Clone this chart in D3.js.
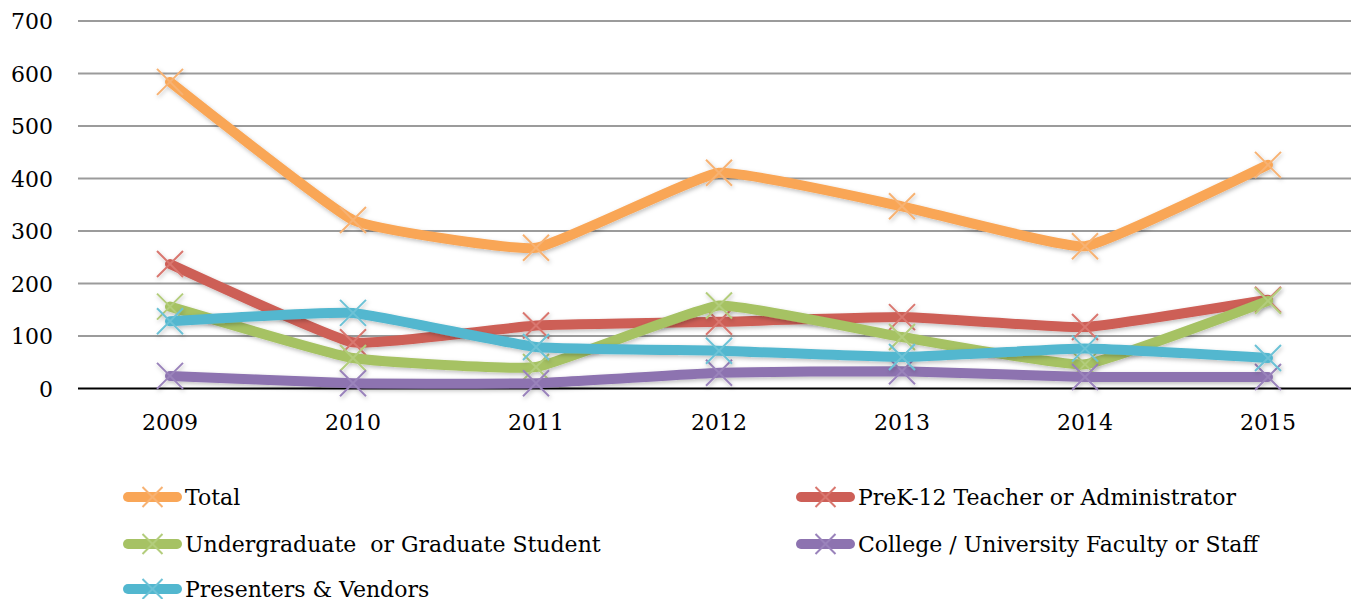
<!DOCTYPE html>
<html lang="en">
<head>
<meta charset="UTF-8">
<title>Attendance by group</title>
<script src="https://d3js.org/d3.v7.min.js"></script>
<style>
  body { margin: 0; background: #fff; }
  svg text { font-family: "DejaVu Serif", serif; fill: #000; }
</style>
</head>
<body>
<svg id="canvas"></svg>
<script>
let years = ["2009", "2010", "2011", "2012", "2013", "2014", "2015"]
let yTicks = [0, 100, 200, 300, 400, 500, 600, 700]

let seriesNames = [
  "Total",
  "PreK-12 Teacher or Administrator",
  "Undergraduate  or Graduate Student",
  "College / University Faculty or Staff",
  "Presenters & Vendors"
]
let total      = [584, 321, 268, 411, 347, 271, 426]
let prek       = [237, 88, 120, 127, 136, 117, 169]
let undergrad  = [156, 58, 41, 158, 98, 46, 167]
let college    = [24, 10, 10, 30, 33, 22, 22]
let presenters = [128, 144, 79, 72, 60, 76, 58]

let colors = ["#f9a657", "#cd5f57", "#a6c264", "#8d73b0", "#52b7cf"]
let markerColors = ["#f7b273", "#d9776f", "#b3cd7c", "#9a83bb", "#6cc2d6"]

let width = 1351
let height = 599
let fontSize = 22

let svg = d3.select("#canvas")
  .attr("width", width)
  .attr("height", height)

let defs = svg.append("defs")
defs.append("filter")
  .attr("id", "shadow")
  .attr("x", "-10%").attr("y", "-30%")
  .attr("width", "120%").attr("height", "160%")
  .append("feDropShadow")
  .attr("dx", 1).attr("dy", 2)
  .attr("stdDeviation", 2)
  .attr("flood-color", "#000")
  .attr("flood-opacity", 0.25)

let xScale = d3.scaleBand()
  .domain(years)
  .range([78.5, 1359.5])

let yScale = d3.scaleLinear()
  .domain([0, 700])
  .range([388.5, 21])

let xc = (d) => xScale(d) + xScale.bandwidth() / 2

// gridlines
svg.append("g")
  .selectAll("line")
  .data(yTicks)
  .enter()
  .append("line")
  .attr("x1", 78)
  .attr("x2", width)
  .attr("y1", (d) => yScale(d))
  .attr("y2", (d) => yScale(d))
  .attr("stroke", (d) => d === 0 ? "#000" : "#9b9b9b")
  .attr("stroke-width", 2)

// y axis labels
let yAxis = d3.axisLeft(yScale)
  .tickValues(yTicks)
  .tickSize(0)
  .tickPadding(0)
svg.append("g")
  .attr("transform", "translate(53,0)")
  .call(yAxis)
  .call((g) => g.select(".domain").remove())
  .selectAll("text")
  .attr("font-size", fontSize)
  .attr("font-family", "DejaVu Serif, serif")
  .attr("dy", "0.36em")

// x axis labels
let xAxis = d3.axisBottom(xScale)
  .tickSize(0)
  .tickPadding(0)
svg.append("g")
  .attr("transform", "translate(0,413)")
  .call(xAxis)
  .call((g) => g.select(".domain").remove())
  .selectAll("text")
  .attr("font-size", fontSize)
  .attr("font-family", "DejaVu Serif, serif")
  .attr("dy", "0.76em")

let allSeries = [total, prek, undergrad, college, presenters]

let line = d3.line()
  .x((d, i) => xc(years[i]))
  .y((d) => yScale(d))
  .curve(d3.curveCardinal.tension(0.65))

let markerPath = (cx, cy, r) =>
  "M" + (cx - r) + "," + (cy - r) + "L" + (cx + r) + "," + (cy + r) +
  "M" + (cx - r) + "," + (cy + r) + "L" + (cx + r) + "," + (cy - r)

let plot = svg.append("g")

allSeries.forEach((vals, k) => {
  let g = plot.append("g").attr("filter", "url(#shadow)")
  g.append("path")
    .datum(vals)
    .attr("d", line)
    .attr("fill", "none")
    .attr("stroke", colors[k])
    .attr("stroke-width", 10)
    .attr("stroke-linejoin", "round")
    .attr("stroke-linecap", "round")
  g.selectAll(".mark")
    .data(vals)
    .enter()
    .append("path")
    .attr("class", "mark")
    .attr("d", (d, i) => markerPath(xc(years[i]), yScale(d), 13))
    .attr("fill", "none")
    .attr("stroke", markerColors[k])
    .attr("stroke-width", 2)
})

// legend
let legendPos = [
  [123, 497], [796, 497],
  [123, 544], [796, 544],
  [123, 589]
]
let legend = svg.append("g")
seriesNames.forEach((name, k) => {
  let [lx, ly] = legendPos[k]
  let g = legend.append("g")
  g.append("line")
    .attr("x1", lx + 5).attr("x2", lx + 54)
    .attr("y1", ly).attr("y2", ly)
    .attr("stroke", colors[k])
    .attr("stroke-width", 10)
    .attr("stroke-linecap", "round")
  g.append("path")
    .attr("d", markerPath(lx + 29.5, ly, 10))
    .attr("stroke", markerColors[k])
    .attr("stroke-width", 2)
    .attr("fill", "none")
  g.append("text")
    .attr("x", lx + 62)
    .attr("y", ly + 8)
    .attr("font-size", fontSize)
    .attr("xml:space", "preserve")
    .style("white-space", "pre")
    .text(name)
})
</script>
</body>
</html>
